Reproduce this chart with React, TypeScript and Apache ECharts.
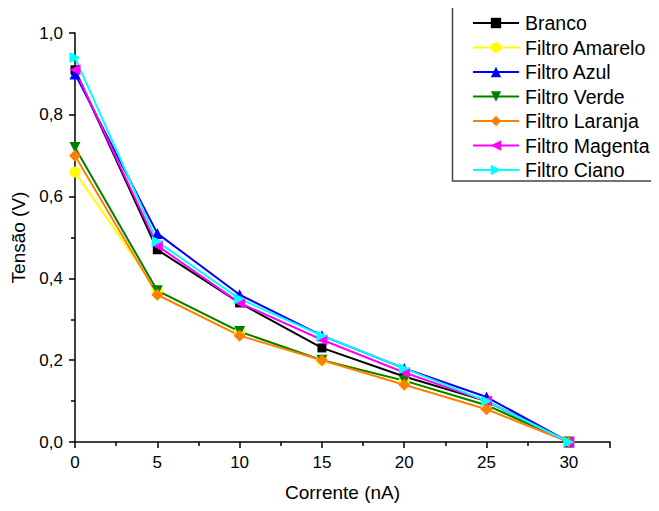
import React, { useEffect, useRef } from "react";
import * as echarts from "echarts";

const current = [0, 5, 10, 15, 20, 25, 30];
const branco = [0.91, 0.47, 0.34, 0.23, 0.16, 0.1, 0];
const amarelo = [0.66, 0.37, 0.27, 0.2, 0.15, 0.09, 0];
const azul = [0.9, 0.51, 0.36, 0.26, 0.18, 0.11, 0];
const verde = [0.72, 0.37, 0.27, 0.2, 0.15, 0.09, 0];
const laranja = [0.7, 0.36, 0.26, 0.2, 0.14, 0.08, 0];
const magenta = [0.91, 0.48, 0.34, 0.25, 0.17, 0.1, 0];
const ciano = [0.94, 0.49, 0.35, 0.26, 0.18, 0.1, 0];

const seriesDefs = [
  { name: "Branco", data: branco, color: "#000000", symbol: "rect", rotate: 0, size: 9 },
  { name: "Filtro Amarelo", data: amarelo, color: "#ffff00", symbol: "circle", rotate: 0, size: 11 },
  { name: "Filtro Azul", data: azul, color: "#0000ff", symbol: "triangle", rotate: 0, size: 11 },
  { name: "Filtro Verde", data: verde, color: "#008000", symbol: "triangle", rotate: 180, size: 11 },
  { name: "Filtro Laranja", data: laranja, color: "#ff8000", symbol: "diamond", rotate: 0, size: 12 },
  { name: "Filtro Magenta", data: magenta, color: "#ff00ff", symbol: "triangle", rotate: 90, size: 11 },
  { name: "Filtro Ciano", data: ciano, color: "#00ffff", symbol: "triangle", rotate: -90, size: 11 },
];

export default function App() {
  const ref = useRef<HTMLDivElement>(null);
  useEffect(() => {
    if (!ref.current) return;
    const chart = echarts.init(ref.current, undefined, { renderer: "svg" });
    const font = "Liberation Sans, Arial, sans-serif";
    chart.setOption({
      animation: false,
      textStyle: { fontFamily: font },
      grid: { left: 75, right: 49, top: 33, bottom: 69, containLabel: false },
      graphic: [
        {
          type: "rect",
          shape: { x: 452.5, y: 2.5, width: 205, height: 178.5 },
          style: { fill: "#fff", stroke: "#444", lineWidth: 1.5 },
          z: 0,
        },
      ],
      legend: {
        orient: "vertical",
        left: 472,
        top: 13,
        itemWidth: 46,
        itemHeight: 13,
        itemGap: 4.5,
        padding: 0,
        textStyle: { fontSize: 19.5, lineHeight: 19, color: "#000", fontFamily: font, padding: [0, 0, 0, 1] },
        data: seriesDefs.map((s) => s.name),
        z: 5,
      },
      xAxis: {
        type: "value",
        min: 0,
        max: 32.5,
        interval: 5,
        name: "Corrente (nA)",
        nameLocation: "middle",
        nameGap: 41,
        nameTextStyle: { fontSize: 19, color: "#000", fontFamily: font },
        axisLine: { onZero: false, lineStyle: { color: "#000", width: 1.5 } },
        axisTick: { show: true, length: 6, inside: false, lineStyle: { color: "#000", width: 1.5 } },
        minorTick: { show: true, splitNumber: 2, length: 4, lineStyle: { color: "#000", width: 1.5 } },
        axisLabel: {
          fontSize: 17,
          color: "#000",
          margin: 12,
          formatter: (v: number) => (v > 30 ? "" : String(v)),
        },
        splitLine: { show: false },
      },
      yAxis: {
        type: "value",
        min: 0,
        max: 1.0,
        interval: 0.2,
        name: "Tensão (V)",
        nameLocation: "middle",
        nameGap: 44,
        nameRotate: 90,
        nameTextStyle: { fontSize: 19, color: "#000", fontFamily: font },
        axisLine: { onZero: false, lineStyle: { color: "#000", width: 1.5 } },
        axisTick: { show: true, length: 6, lineStyle: { color: "#000", width: 1.5 } },
        minorTick: { show: true, splitNumber: 2, length: 4, lineStyle: { color: "#000", width: 1.5 } },
        axisLabel: {
          fontSize: 17,
          color: "#000",
          margin: 12,
          formatter: (v: number) => v.toFixed(1).replace(".", ","),
        },
        splitLine: { show: false },
      },
      series: seriesDefs.map((s) => ({
        name: s.name,
        type: "line",
        data: current.map((x, i) => [x, s.data[i]]),
        symbol: s.symbol,
        symbolSize: s.size,
        symbolRotate: s.rotate,
        showSymbol: true,
        lineStyle: { color: s.color, width: 2 },
        itemStyle: { color: s.color, borderWidth: 0 },
        emphasis: { disabled: true },
      })),
    });
    return () => chart.dispose();
  }, []);
  return <div ref={ref} style={{ width: 659, height: 511, marginLeft: -8, marginTop: -8 }} />;
}
